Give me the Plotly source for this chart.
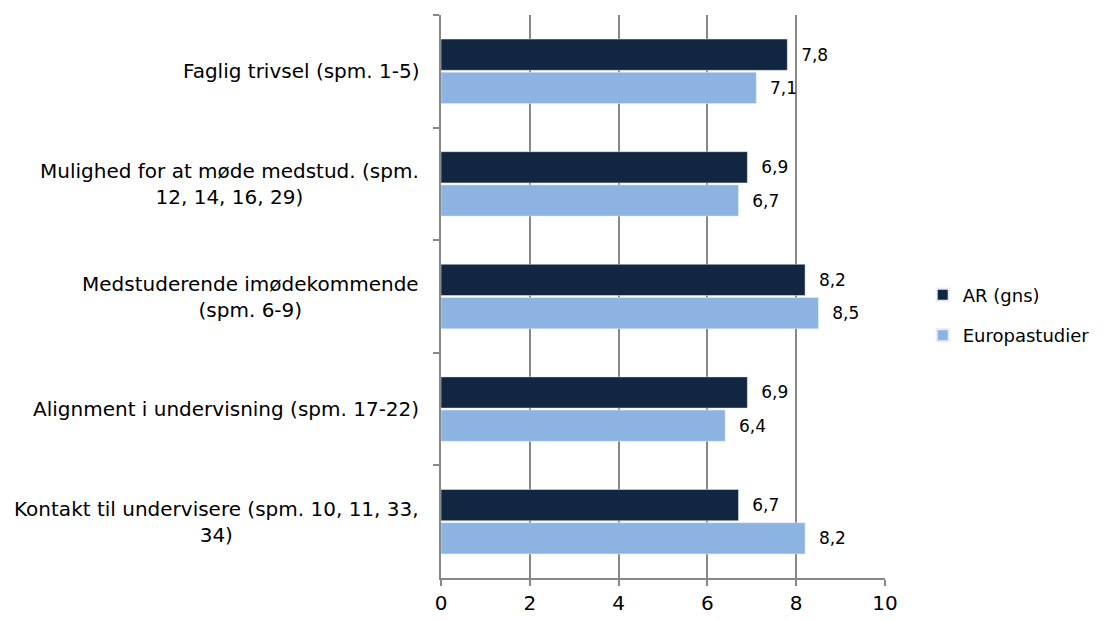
import plotly.graph_objects as go

categories = [
    "Faglig trivsel (spm. 1-5)",
    "Mulighed for at møde medstud. (spm.<br>12, 14, 16, 29)",
    "Medstuderende imødekommende<br>(spm. 6-9)",
    "Alignment i undervisning (spm. 17-22)",
    "Kontakt til undervisere (spm. 10, 11, 33,<br>34)",
]
ar_values = [7.8, 6.9, 8.2, 6.9, 6.7]
euro_values = [7.1, 6.7, 8.5, 6.4, 8.2]
series_names = ["AR (gns)", "Europastudier"]
x_ticks = [0, 2, 4, 6, 8, 10]

FONT = "DejaVu Sans"

def fmt(v):
    return "  " + f"{v:.1f}".replace(".", ",")

fig = go.Figure()
fig.add_trace(go.Bar(
    y=categories, x=ar_values, orientation="h", name=series_names[0],
    marker=dict(color="#112640"), legendgroup="a",
    text=[fmt(v) for v in ar_values], textposition="outside",
    textfont=dict(size=17, color="#000000", family=FONT), cliponaxis=False,
))
fig.add_trace(go.Bar(
    y=categories, x=euro_values, orientation="h", name=series_names[1],
    marker=dict(color="#8DB3E2"), legendgroup="b",
    text=[fmt(v) for v in euro_values], textposition="outside",
    textfont=dict(size=17, color="#000000", family=FONT), cliponaxis=False,
))

for c in categories:
    fig.add_annotation(
        xref="paper", yref="y", x=0, y=c, xshift=-20, xanchor="right",
        text=c, showarrow=False, align="center",
        font=dict(size=20, color="#000000", family=FONT),
    )

fig.update_layout(
    width=1098, height=612,
    margin=dict(l=433, r=221, t=7, b=42, autoexpand=False),
    paper_bgcolor="white", plot_bgcolor="white",
    barmode="group", bargap=0.41, bargroupgap=0.06,
    font=dict(family=FONT, size=18, color="#000000"),
    showlegend=True,
    legend=dict(x=1.085, y=0.467, xanchor="left", yanchor="middle",
                traceorder="grouped", font=dict(size=18, family=FONT),
                itemsizing="constant", tracegroupgap=14, itemwidth=30),
)
fig.update_xaxes(
    range=[0, 10], tickvals=x_ticks, ticktext=[str(t) for t in x_ticks],
    showgrid=True, gridcolor="#888888", gridwidth=1.5,
    showline=True, linecolor="#888888", linewidth=1.5,
    ticks="outside", ticklen=6, tickcolor="#888888", tickwidth=1.5,
    tickfont=dict(size=20, family=FONT), zeroline=False,
)
fig.update_yaxes(
    autorange="reversed", showticklabels=False,
    tickson="boundaries", ticks="outside", ticklen=6,
    tickcolor="#888888", tickwidth=1.5,
    showline=True, linecolor="#888888", linewidth=1.5, showgrid=False,
)

fig.write_html("out.html")
